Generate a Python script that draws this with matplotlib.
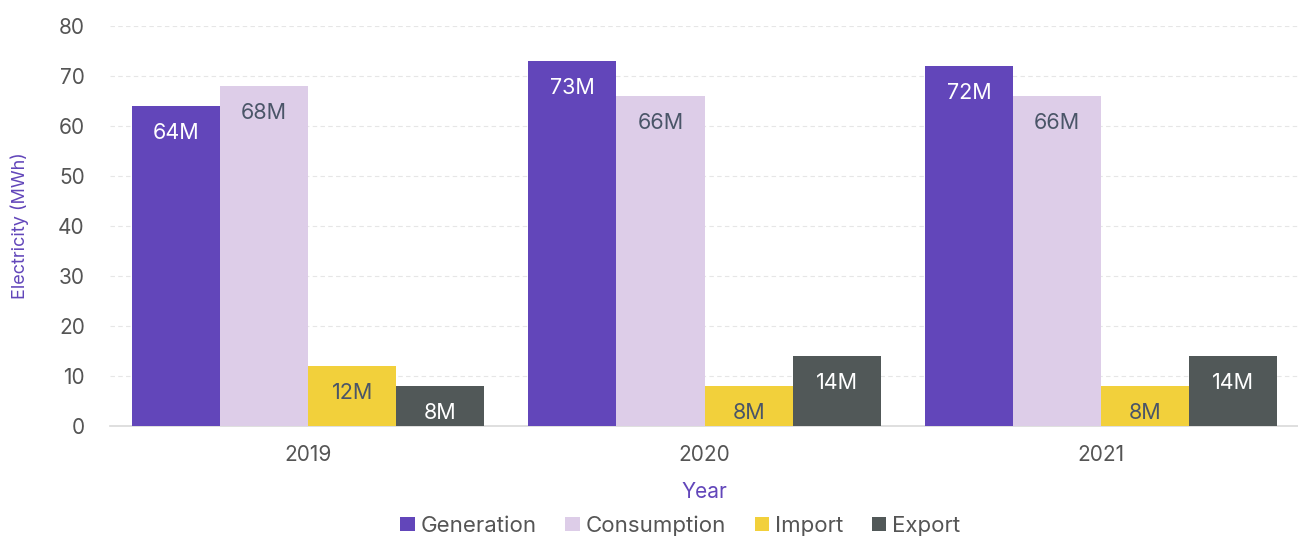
import matplotlib
matplotlib.use("Agg")
import matplotlib.pyplot as plt
import numpy as np

years = ["2019", "2020", "2021"]
series_names = ["Generation", "Consumption", "Import", "Export"]
generation = [64, 73, 72]
consumption = [68, 66, 66]
imports = [12, 8, 8]
exports = [8, 14, 14]
y_ticks = [0, 10, 20, 30, 40, 50, 60, 70, 80]

colors = ["#6246ba", "#ddcde8", "#f2d03b", "#515858"]
label_colors = ["#ffffff", "#4a5568", "#4a5568", "#ffffff"]

plt.rcParams["font.family"] = ["Inter", "DejaVu Sans"]

fig = plt.figure(figsize=(12.98, 5.36), dpi=100)
ax = fig.add_axes([0.0846, 0.2052, 0.9164, 0.7463])

x = np.arange(len(years))
group_width = 0.889
bar_w = group_width / 4
all_series = [generation, consumption, imports, exports]

handles = []
for i, (vals, name) in enumerate(zip(all_series, series_names)):
    pos = x - group_width / 2 + bar_w * (i + 0.5)
    bars = ax.bar(pos, vals, width=bar_w, color=colors[i], label=name, zorder=3)
    handles.append(bars)
    for b, v in zip(bars, vals):
        ax.annotate(f"{v}M", xy=(b.get_x() + b.get_width() / 2, v),
                    xytext=(0, -19.5), textcoords="offset points",
                    ha="center", va="center", fontsize=15.5,
                    color=label_colors[i], zorder=4)

ax.set_xlim(-0.5, len(years) - 0.5)
ax.set_ylim(0, 80)
ax.set_yticks(y_ticks)
ax.set_xticks(x)
ax.set_xticklabels(years)
ax.tick_params(axis="both", length=0, labelsize=15, labelcolor="#555555")
ax.tick_params(axis="y", pad=18)
ax.tick_params(axis="x", pad=14)

ax.grid(axis="y", color="#e6e6e6", linestyle=(0, (4, 3)), linewidth=0.8, zorder=0)
for s in ["top", "right", "left"]:
    ax.spines[s].set_visible(False)
ax.spines["bottom"].set_color("#d9d9d9")
ax.spines["bottom"].set_linewidth(1.2)

ax.set_ylabel("Electricity (MWh)", color="#6246ba", fontsize=13)
ax.yaxis.set_label_coords(-0.068, 0.5)
ax.set_xlabel("Year", color="#6246ba", fontsize=15, labelpad=12)

leg = fig.legend(handles=handles, labels=series_names, loc="lower center",
                 bbox_to_anchor=(0.524, -0.037), ncol=4, frameon=False,
                 fontsize=16, handlelength=0.65, handleheight=0.65,
                 handletextpad=0.25, columnspacing=1.3, labelcolor="#555555")

fig.savefig("out.png", dpi=100)
